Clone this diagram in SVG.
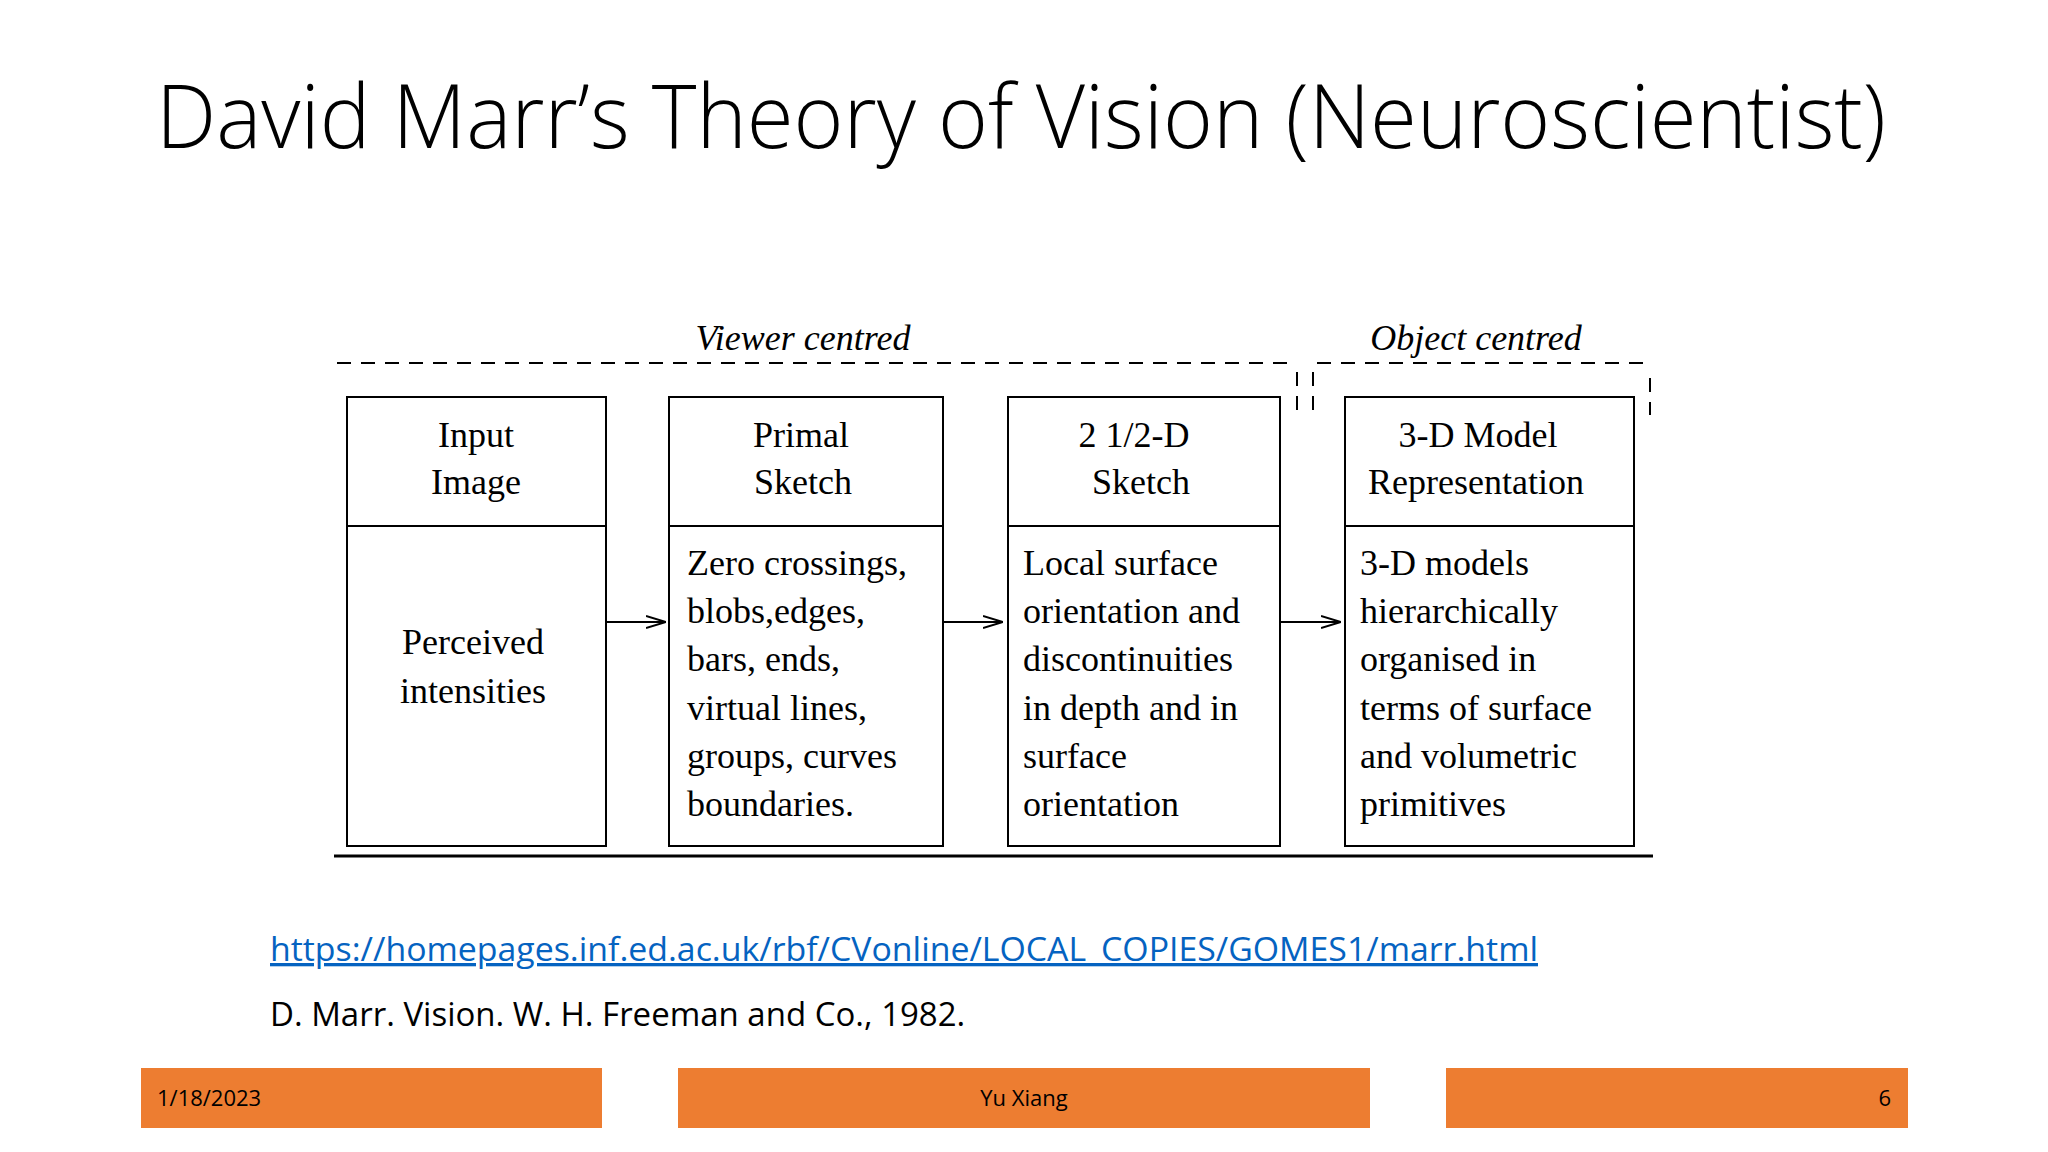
<svg xmlns="http://www.w3.org/2000/svg" width="2048" height="1152" viewBox="0 0 2048 1152">
<style>
.box{fill:#fff;stroke:#000;stroke-width:2}
.t{font-family:"Liberation Serif",serif;font-size:36px;fill:#000}
.c{text-anchor:middle}
.dash{stroke:#000;stroke-width:2;stroke-dasharray:14 10;fill:none}
.ln{stroke:#000;stroke-width:2;fill:none}
.foot{fill:#ED7D31}
.ft{font-family:"Open Sans","Liberation Sans",sans-serif;font-size:22px;fill:#000}
</style>
<defs><marker id="ah" markerWidth="20" markerHeight="14" refX="20" refY="7" orient="auto" markerUnits="userSpaceOnUse"><path d="M0,1 L20,7 L0,13" fill="none" stroke="#000" stroke-width="2"/></marker></defs>
<rect width="2048" height="1152" fill="#fff"/>
<text x="1021" y="148" text-anchor="middle" font-family="'Open Sans','Liberation Sans',sans-serif" font-weight="300" font-size="88" textLength="1730" lengthAdjust="spacingAndGlyphs">David Marr’s Theory of Vision (Neuroscientist)</text>
<g id="frame">
<line class="dash" x1="337" y1="363" x2="1297" y2="363"/>
<line class="dash" x1="1317" y1="363" x2="1650" y2="363"/>
<line class="dash" x1="1297" y1="372" x2="1297" y2="415"/>
<line class="dash" x1="1313" y1="372" x2="1313" y2="415"/>
<line class="dash" x1="1650" y1="378" x2="1650" y2="415"/>
<text class="t c" x="803" y="350" font-style="italic">Viewer centred</text>
<text class="t c" x="1476" y="350" font-style="italic">Object centred</text>
<line x1="334" y1="856" x2="1653" y2="856" stroke="#000" stroke-width="3"/>
</g>
<g id="n1"><rect class="box" x="347" y="397" width="259" height="449"/><line class="ln" x1="347" y1="526" x2="606" y2="526"/>
<text class="t c" x="476" y="447">Input</text><text class="t c" x="476" y="494">Image</text>
<text class="t c" x="473" y="654">Perceived</text><text class="t c" x="473" y="703">intensities</text></g>
<g id="n2"><rect class="box" x="669" y="397" width="274" height="449"/><line class="ln" x1="669" y1="526" x2="943" y2="526"/>
<text class="t c" x="801" y="447">Primal</text><text class="t c" x="803" y="494">Sketch</text>
<text class="t" x="687" y="575">Zero crossings,</text><text class="t" x="687" y="623">blobs,edges,</text><text class="t" x="687" y="671">bars, ends,</text><text class="t" x="687" y="720">virtual lines,</text><text class="t" x="687" y="768">groups, curves</text><text class="t" x="687" y="816">boundaries.</text></g>
<g id="n3"><rect class="box" x="1008" y="397" width="272" height="449"/><line class="ln" x1="1008" y1="526" x2="1280" y2="526"/>
<text class="t c" x="1134" y="447">2 1/2-D</text><text class="t c" x="1141" y="494">Sketch</text>
<text class="t" x="1023" y="575">Local surface</text><text class="t" x="1023" y="623">orientation and</text><text class="t" x="1023" y="671">discontinuities</text><text class="t" x="1023" y="720">in depth and in</text><text class="t" x="1023" y="768">surface</text><text class="t" x="1023" y="816">orientation</text></g>
<g id="n4"><rect class="box" x="1345" y="397" width="289" height="449"/><line class="ln" x1="1345" y1="526" x2="1634" y2="526"/>
<text class="t c" x="1478" y="447">3-D Model</text><text class="t c" x="1476" y="494">Representation</text>
<text class="t" x="1360" y="575">3-D models</text><text class="t" x="1360" y="623">hierarchically</text><text class="t" x="1360" y="671">organised in</text><text class="t" x="1360" y="720">terms of surface</text><text class="t" x="1360" y="768">and volumetric</text><text class="t" x="1360" y="816">primitives</text></g>
<g id="connectors">
<line class="ln" x1="606" y1="622" x2="666" y2="622" marker-end="url(#ah)"/>
<line class="ln" x1="943" y1="622" x2="1003" y2="622" marker-end="url(#ah)"/>
<line class="ln" x1="1280" y1="622" x2="1341" y2="622" marker-end="url(#ah)"/>
</g>
<text x="270" y="961" font-family="'Open Sans','Liberation Sans',sans-serif" font-size="33" fill="#0563C1" text-decoration="underline" textLength="1268" lengthAdjust="spacingAndGlyphs">https://homepages.inf.ed.ac.uk/rbf/CVonline/LOCAL_COPIES/GOMES1/marr.html</text>
<text x="270" y="1026" font-family="'Open Sans','Liberation Sans',sans-serif" font-size="33" fill="#000">D. Marr. Vision. W. H. Freeman and Co., 1982.</text>
<g id="footer">
<rect class="foot" x="141" y="1068" width="461" height="60"/>
<rect class="foot" x="678" y="1068" width="692" height="60"/>
<rect class="foot" x="1446" y="1068" width="462" height="60"/>
<text class="ft" x="157" y="1106">1/18/2023</text>
<text class="ft" x="1024" y="1106" text-anchor="middle">Yu Xiang</text>
<text class="ft" x="1891" y="1106" text-anchor="end">6</text>
</g>
</svg>
